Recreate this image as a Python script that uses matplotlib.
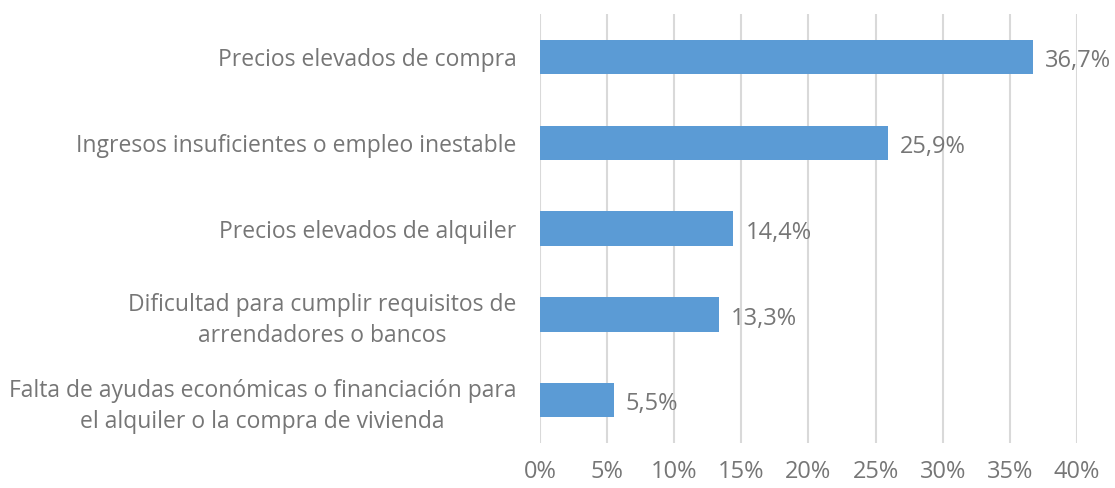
import matplotlib
matplotlib.use("Agg")
from matplotlib import pyplot as plt

# barriers to housing access, share of answers
categorias = [
    "Precios elevados de compra",
    "Ingresos insuficientes o empleo inestable",
    "Precios elevados de alquiler",
    "Dificultad para cumplir requisitos de\narrendadores o bancos",
    "Falta de ayudas económicas o financiación para\nel alquiler o la compra de vivienda",
]
valores = [36.7, 25.9, 14.4, 13.3, 5.5]
ticks = [0, 5, 10, 15, 20, 25, 30, 35, 40]

plt.rcParams['font.family'] = ['Open Sans', 'DejaVu Sans']
gris = '#767676'

fig = plt.figure(figsize=(11.15, 4.88), dpi=100)
ax = fig.add_axes([0.4843, 0.092, 0.4816, 0.879])

pos = list(range(len(categorias)))
ax.barh(pos, valores, height=0.4, color='#5B9BD5', zorder=3)

# value labels next to each bar
for p, v in zip(pos, valores):
    ax.text(v + 0.9, p + 0.05, f"{v:.1f}".replace('.', ',') + "%", va='center', ha='left',
            fontsize=17, color=gris)

ax.set_xlim(0, 40)
ax.set_ylim(len(categorias) - 0.5, -0.5)
ax.set_xticks(ticks)
ax.set_xticklabels([f"{t}%" for t in ticks])
ax.set_yticks(pos)
ax.set_yticklabels(categorias, multialignment='center', linespacing=1.35)

ax.grid(axis='x', color='#d9d9d9', linewidth=1.5, zorder=0)
for s in ax.spines.values():
    s.set_visible(False)
ax.tick_params(axis='both', length=0, colors=gris)
ax.tick_params(axis='y', pad=17, labelsize=16.5)
ax.tick_params(axis='x', pad=12, labelsize=17)

fig.savefig("out.png", dpi=100)
